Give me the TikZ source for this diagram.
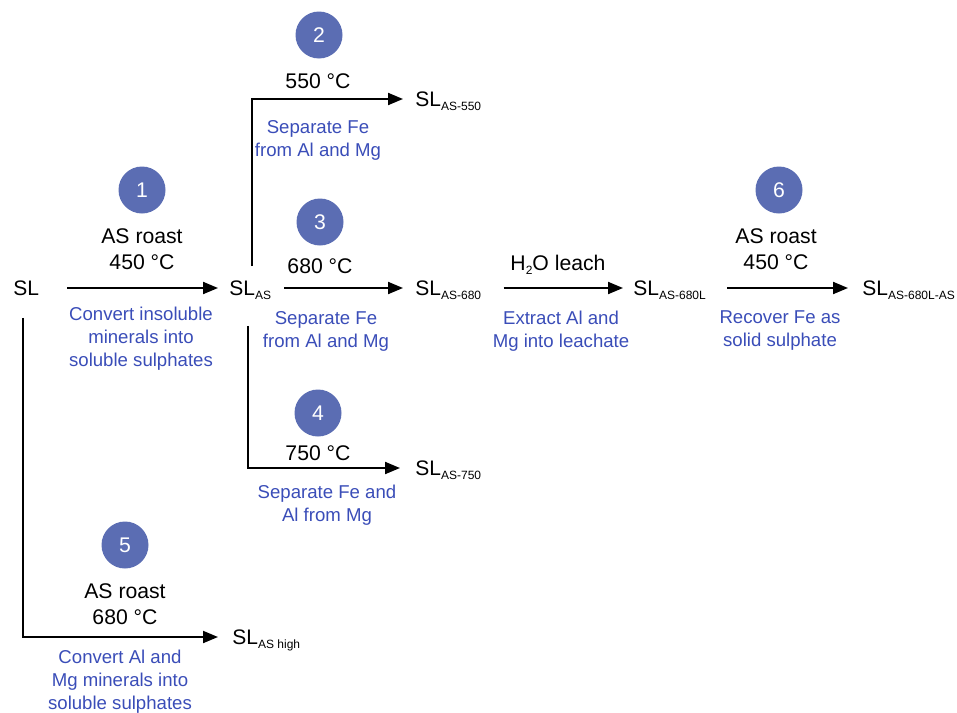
\documentclass[tikz,border=0pt]{standalone}
\usepackage{fontspec}
\setmainfont{Liberation Sans}
\usepackage{tikz}
\usetikzlibrary{arrows.meta,positioning}
\definecolor{stepc}{HTML}{5B6DB3}
\definecolor{aimc}{HTML}{3A4DB8}
\newcommand{\lo}[1]{\raisebox{-2.2pt}{\fontsize{6}{7}\selectfont #1}}
\tikzset{
  ar/.style={-{Triangle[length=7.5pt,width=6pt]},line width=1pt},
  num/.style={circle,fill=stepc,text=white,minimum size=23.5pt,inner sep=0pt,font=\fontsize{10.6}{13}\selectfont},
  cond/.style={align=center,inner sep=0pt,font=\fontsize{10.6}{13}\selectfont},
  aim/.style={align=center,inner sep=0pt,text=aimc,font=\fontsize{9.3}{11.5}\selectfont},
  prod/.style={anchor=west,inner sep=0pt,text height=9pt,text depth=1.5pt,font=\fontsize{10.5}{13}\selectfont}
}
\begin{document}
\begin{tikzpicture}[x=0.5pt,y=-0.5pt]
\useasboundingbox (0,0) rectangle (957,712);
% products
\node[prod] (sl) at (13,288) {SL};
\node[prod] (slas) at (229,288) {SL\lo{AS}};
\node[prod] (sl550) at (415,99) {SL\lo{AS-550}};
\node[prod] (sl680) at (415,288) {SL\lo{AS-680}};
\node[prod] (sl750) at (415,468) {SL\lo{AS-750}};
\node[prod] (sl680L) at (633,288) {SL\lo{AS-680L}};
\node[prod] (sl680LAS) at (862,288) {SL\lo{AS-680L-AS}};
\node[prod] (slhigh) at (232,637) {SL\lo{AS high}};
% steps
\node[num] (c1) at (142,190) {1};
\node[num] (c2) at (319,35) {2};
\node[num] (c3) at (320,222) {3};
\node[num] (c4) at (318,413) {4};
\node[num] (c5) at (125,545) {5};
\node[num] (c6) at (779,190) {6};
\node[cond] (t1) at (142,249) {AS roast\\450 °C};
\node[cond] (t2) at (318,81) {550 °C};
\node[cond] (t3) at (320,266) {680 °C};
\node[cond] (t4) at (318,453) {750 °C};
\node[cond] (t5) at (125,604) {AS roast\\680 °C};
\node[cond] (t6) at (776,249) {AS roast\\450 °C};
\node[cond] (tl) at (558,265) {H\lo{2}O leach};
\node[aim] (a1) at (141,339) {Convert insoluble\\minerals into\\soluble sulphates};
\node[aim] (a2) at (318,140) {Separate Fe\\from Al and Mg};
\node[aim] (a3) at (326,331) {Separate Fe\\from Al and Mg};
\node[aim] (a4) at (327,505) {Separate Fe and\\Al from Mg};
\node[aim] (a5) at (120,682) {Convert Al and\\Mg minerals into\\soluble sulphates};
\node[aim] (al) at (561,331) {Extract Al and\\Mg into leachate};
\node[aim] (a6) at (780,331) {Recover Fe as\\solid sulphate};
% routes
\draw[ar,shorten <=14pt,shorten >=5.5pt] (sl) -- (slas);
\draw[ar,shorten <=6.5pt,shorten >=6pt] (slas) -- (sl680);
\draw[ar,shorten <=11pt,shorten >=5pt] (sl680) -- (sl680L);
\draw[ar,shorten <=10.5pt,shorten >=7pt] (sl680L) -- (sl680LAS);
\draw[ar,shorten <=5.5pt,shorten >=6pt] ([xshift=11.5pt]slas.north west) |- (sl550);
\draw[ar,shorten <=13.5pt,shorten >=7.5pt] ([xshift=9.5pt]slas.south west) |- (sl750);
\draw[ar,shorten <=9.5pt,shorten >=7pt] ([xshift=4.8pt]sl.south west) |- (slhigh);
\end{tikzpicture}
\end{document}
